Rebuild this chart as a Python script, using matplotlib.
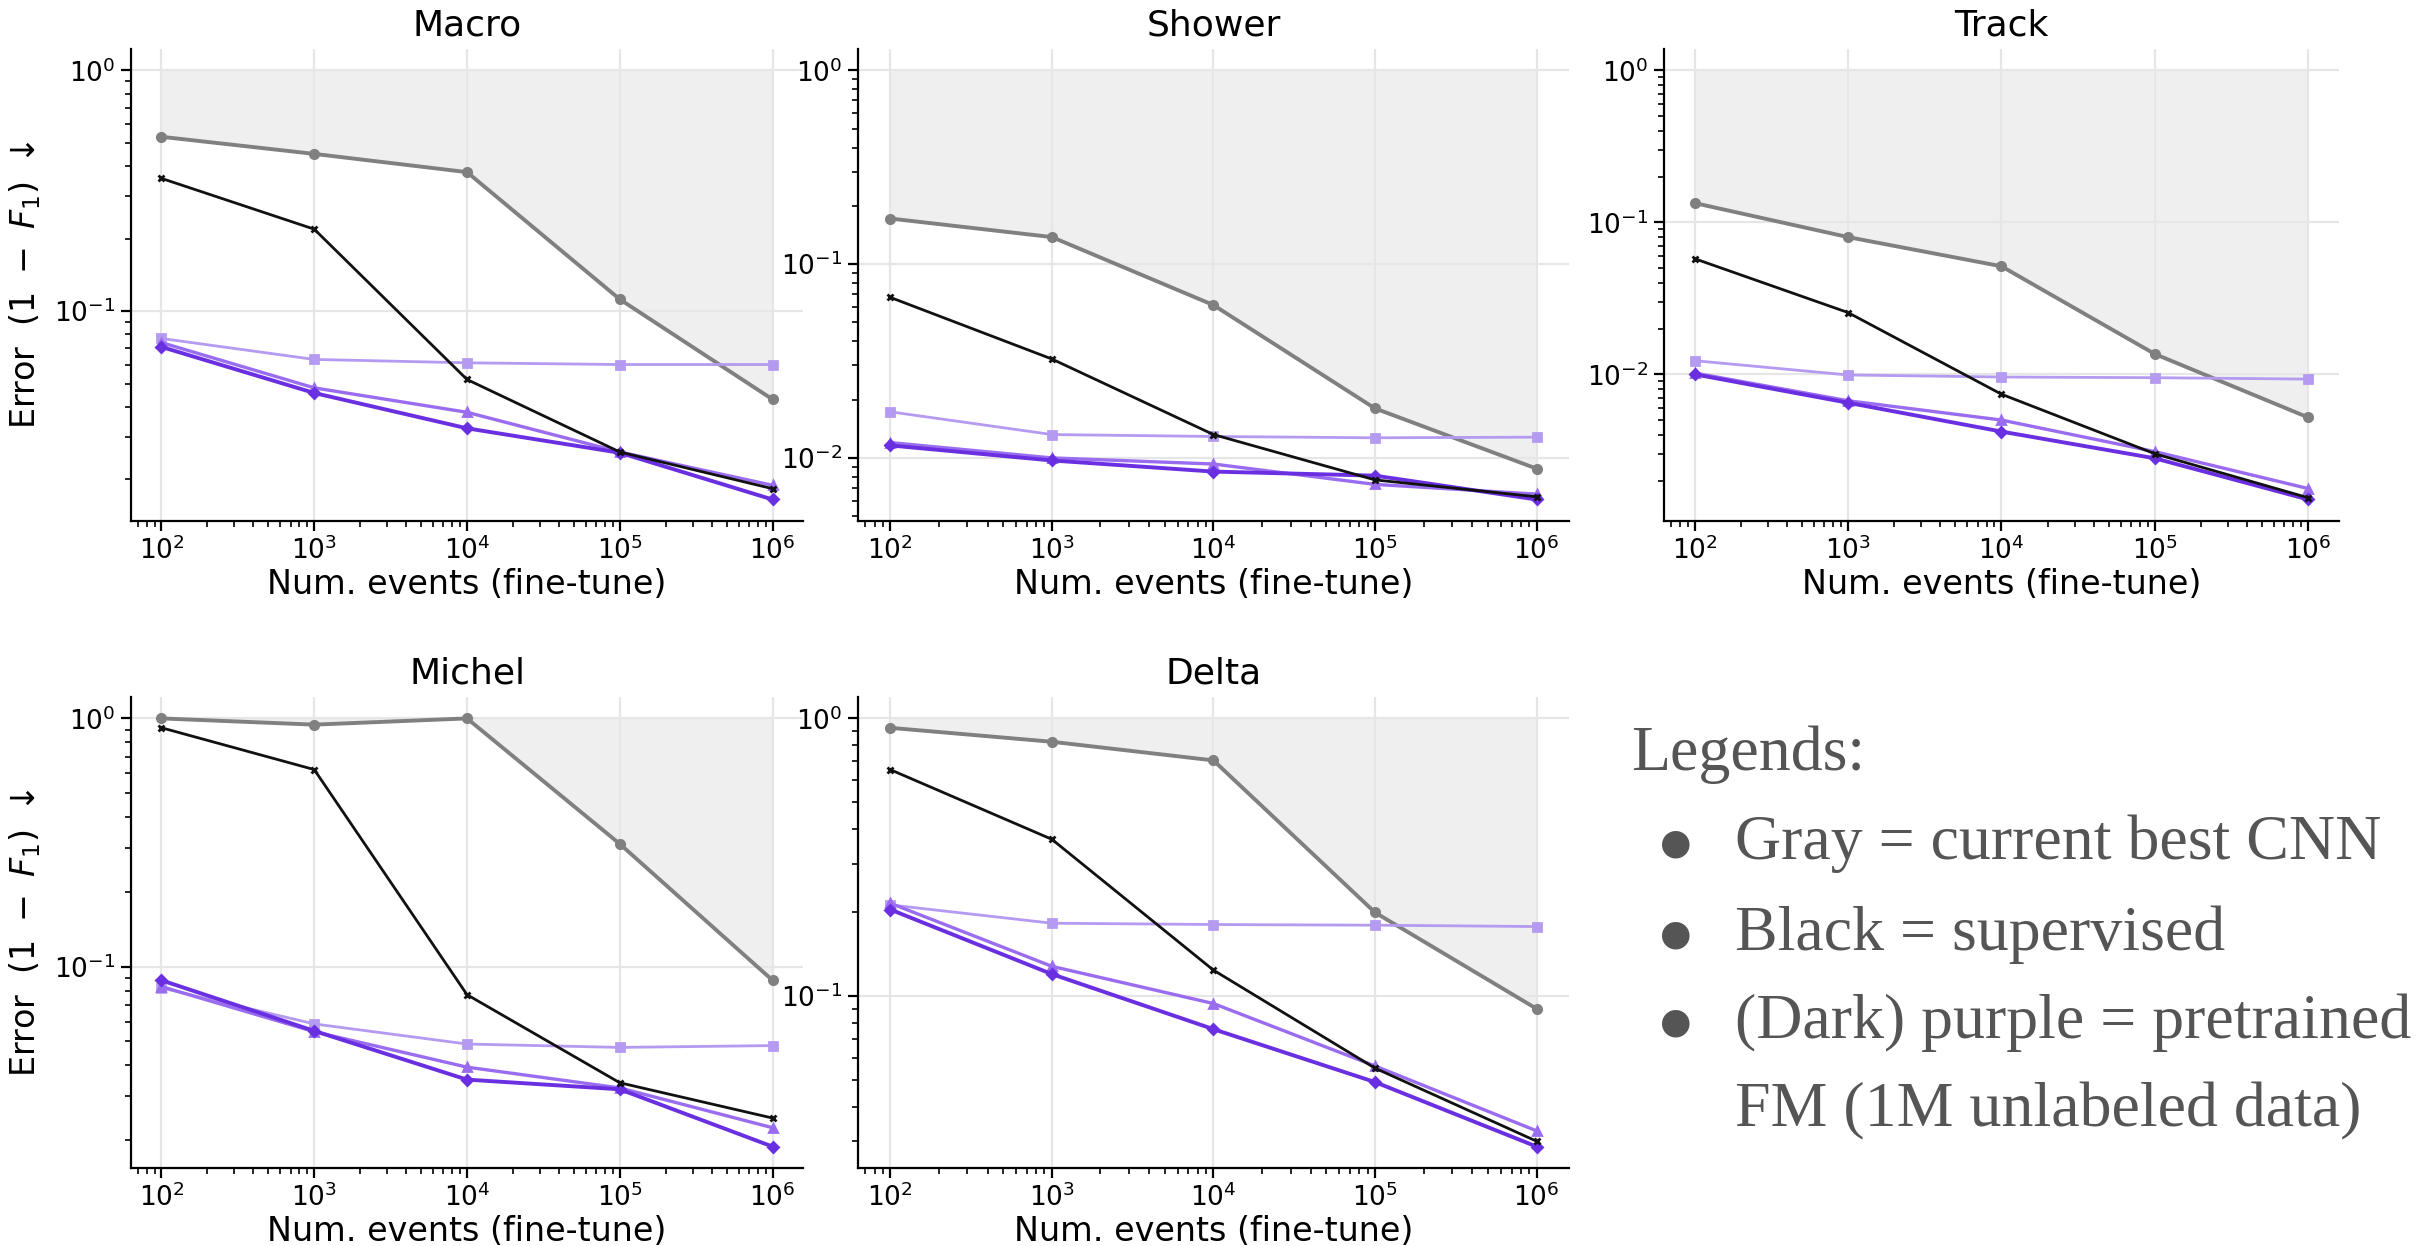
import numpy as np
import matplotlib
matplotlib.use("Agg")
import matplotlib.pyplot as plt

# fine-tune set sizes
n_events = [1e2, 1e3, 1e4, 1e5, 1e6]

panels = ['Macro', 'Shower', 'Track', 'Michel', 'Delta']

# error (1 - F1), one list per method and panel
cnn = {
    'Macro':  [0.53, 0.45, 0.378, 0.112, 0.043],
    'Shower': [0.172, 0.138, 0.0615, 0.018, 0.0088],
    'Track':  [0.134, 0.080, 0.0514, 0.0136, 0.0052],
    'Michel': [1.0, 0.944, 1.0, 0.312, 0.088],
    'Delta':  [0.925, 0.824, 0.706, 0.20, 0.090],
}
supervised = {
    'Macro':  [0.356, 0.219, 0.052, 0.026, 0.0183],
    'Shower': [0.0674, 0.0324, 0.0132, 0.0077, 0.0063],
    'Track':  [0.0577, 0.0255, 0.0074, 0.0030, 0.00154],
    'Michel': [0.917, 0.622, 0.077, 0.034, 0.0245],
    'Delta':  [0.654, 0.367, 0.124, 0.055, 0.030],
}
fm_light = {
    'Macro':  [0.077, 0.063, 0.061, 0.060, 0.060],
    'Shower': [0.0173, 0.0132, 0.0129, 0.0127, 0.0128],
    'Track':  [0.0123, 0.0099, 0.0096, 0.0095, 0.0093],
    'Michel': [0.082, 0.0587, 0.0487, 0.0472, 0.048],
    'Delta':  [0.213, 0.183, 0.181, 0.180, 0.178],
}
fm_mid = {
    'Macro':  [0.074, 0.048, 0.038, 0.026, 0.0189],
    'Shower': [0.0120, 0.0100, 0.0093, 0.0073, 0.0065],
    'Track':  [0.0102, 0.0067, 0.0050, 0.0031, 0.00177],
    'Michel': [0.083, 0.0546, 0.0393, 0.0324, 0.0224],
    'Delta':  [0.216, 0.128, 0.094, 0.056, 0.0327],
}
fm_dark = {
    'Macro':  [0.071, 0.0457, 0.0326, 0.0258, 0.0165],
    'Shower': [0.0116, 0.0097, 0.0085, 0.0081, 0.0061],
    'Track':  [0.0100, 0.0065, 0.0042, 0.0028, 0.0015],
    'Michel': [0.088, 0.055, 0.035, 0.032, 0.0188],
    'Delta':  [0.205, 0.120, 0.076, 0.049, 0.0287],
}

legend_title = 'Legends:'
legend_lines = ['Gray = current best CNN', 'Black = supervised',
                '(Dark) purple = pretrained', 'FM (1M unlabeled data)']

fig = plt.figure(figsize=(12.08, 6.23), dpi=200)

# axes boxes [left, bottom, width, height] in figure fraction
boxes = {
    'Macro':  [0.0542, 0.5819, 0.2782, 0.3788],
    'Shower': [0.3551, 0.5819, 0.2943, 0.3788],
    'Track':  [0.6887, 0.5819, 0.2794, 0.3788],
    'Michel': [0.0542, 0.0626, 0.2782, 0.3780],
    'Delta':  [0.3551, 0.0626, 0.2943, 0.3780],
}

for name in panels:
    ax = fig.add_axes(boxes[name])
    ax.set_xscale('log')
    ax.set_yscale('log')
    ax.fill_between(n_events, cnn[name], 1.0, color='#efefef', lw=0, zorder=0)
    ax.plot(n_events, cnn[name], color='#808080', lw=1.4, marker='o', ms=3, zorder=3)
    ax.plot(n_events, supervised[name], color='#111111', lw=1.0, marker='x', ms=2.5, mew=1, zorder=4)
    ax.plot(n_events, fm_light[name], color='#b49af0', lw=1.0, marker='s', ms=3, zorder=3)
    ax.plot(n_events, fm_mid[name], color='#9a6df0', lw=1.2, marker='^', ms=3, zorder=3)
    ax.plot(n_events, fm_dark[name], color='#6a2fe0', lw=1.4, marker='D', ms=2.5, zorder=3)
    ax.grid(True, which='major', color='#e6e6e6', lw=0.8)
    ax.set_axisbelow(True)
    ax.spines['top'].set_visible(False)
    ax.spines['right'].set_visible(False)
    ax.tick_params(labelsize=9.5, pad=2)
    ax.set_title(name, fontsize=13, pad=5)
    ax.set_xlabel('Num. events (fine-tune)', fontsize=12, labelpad=1)
    if name in ('Macro', 'Michel'):
        ax.set_ylabel(r'Error  $(1\ -\ F_1)$ $\downarrow$', fontsize=12)

# text legend in the empty sixth slot
fig.text(0.675, 0.394, legend_title, fontsize=23, family='Liberation Serif',
         color='#555555', va='center')
ys = [0.323, 0.250, 0.179]
for y, line in zip(ys, legend_lines[:3]):
    fig.text(0.6935, y, '\u25CF', fontsize=13, color='#555555', va='center', ha='center')
    fig.text(0.718, y, line, fontsize=23, family='Liberation Serif',
             color='#555555', va='center')
fig.text(0.718, 0.108, legend_lines[3], fontsize=23, family='Liberation Serif',
         color='#555555', va='center')

fig.savefig('out.png', dpi=200)
